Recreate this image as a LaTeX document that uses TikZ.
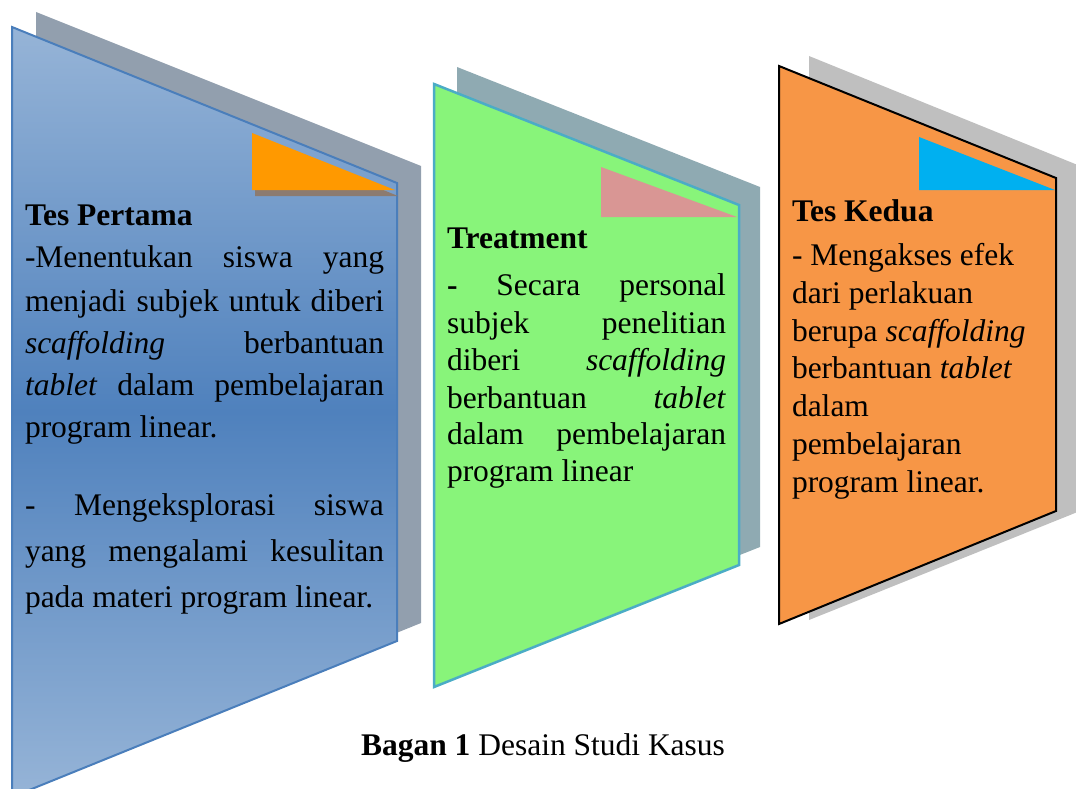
\documentclass[tikz,border=0pt]{standalone}
\usepackage{fontspec}
\setmainfont{Liberation Serif}
\definecolor{bluetop}{RGB}{150,180,215}
\definecolor{bluemid}{RGB}{79,129,189}
\definecolor{bluestroke}{RGB}{74,126,187}
\definecolor{blueshadow}{RGB}{146,159,174}
\definecolor{greenfill}{RGB}{136,244,122}
\definecolor{greenstroke}{RGB}{75,172,198}
\definecolor{greenshadow}{RGB}{143,170,178}
\definecolor{orangefill}{RGB}{247,150,70}
\definecolor{orangeshadow}{RGB}{191,191,191}
\definecolor{tri1}{RGB}{255,153,0}
\definecolor{tri1shadow}{RGB}{140,123,112}
\definecolor{tri2}{RGB}{217,150,148}
\definecolor{tri3}{RGB}{0,176,240}
\begin{document}
\begin{tikzpicture}[x=1pt,y=-1pt,
  txt/.style={anchor=base west,inner sep=0pt,outer sep=0pt,font=\fontsize{31.5}{37}\selectfont},
  ttl/.style={txt,font=\fontsize{31.5}{37}\selectfont\bfseries}]
\useasboundingbox (0,0) rectangle (1076,789);
\clip (0,0) rectangle (1076,789);
% ---------- panel 1 ----------
\fill[blueshadow] (36,12) -- (421,166) -- (421,623) -- (36,779) -- cycle;
\shade[top color=bluetop,bottom color=bluetop,middle color=bluemid] (12,27) -- (397,183) -- (397,641) -- (12,797) -- cycle;
\draw[bluestroke,line width=2pt] (12,27) -- (397,183) -- (397,641) -- (12,797) -- cycle;
\fill[tri1shadow] (255,138) -- (255,196) -- (398,196) -- cycle;
\fill[tri1] (252,133) -- (252,190) -- (395,190) -- cycle;
\node[ttl] (t1) at (25,225) {Tes Pertama};
\node[txt] (a1) at (25,267) {\makebox[359pt][s]{-Menentukan siswa yang}};
\node[txt] (a2) at (25,311) {\makebox[359pt][s]{menjadi subjek untuk diberi}};
\node[txt] (a3) at (25,353) {\makebox[359pt][s]{\textit{scaffolding} berbantuan}};
\node[txt] (a4) at (25,395) {\makebox[359pt][s]{\textit{tablet} dalam pembelajaran}};
\node[txt] (a5) at (25,437) {program linear.};
\node[txt] (a6) at (25,515) {\makebox[359pt][s]{- Mengeksplorasi siswa}};
\node[txt] (a7) at (25,561) {\makebox[359pt][s]{yang mengalami kesulitan}};
\node[txt] (a8) at (25,607) {pada materi program linear.};
% ---------- panel 2 ----------
\fill[greenshadow] (457,67) -- (760,187) -- (760,547) -- (457,667) -- cycle;
\filldraw[fill=greenfill,draw=greenstroke,line width=2.5pt] (434,84) -- (739,205) -- (739,565) -- (434,687) -- cycle;
\fill[tri2] (601,167) -- (601,217) -- (737,217) -- cycle;
\node[ttl] (t2) at (447,248) {Treatment};
\node[txt] (b1) at (447,295) {\makebox[279pt][s]{\textbf{-} Secara personal}};
\node[txt] (b2) at (447,333) {\makebox[279pt][s]{subjek penelitian}};
\node[txt] (b3) at (447,370) {\makebox[279pt][s]{diberi \textit{scaffolding}}};
\node[txt] (b4) at (447,408) {\makebox[279pt][s]{berbantuan \textit{tablet}}};
\node[txt] (b5) at (447,444) {\makebox[279pt][s]{dalam pembelajaran}};
\node[txt] (b6) at (447,481) {program linear};
% ---------- panel 3 ----------
\fill[orangeshadow] (809,56) -- (1090,170) -- (1090,507) -- (809,620) -- cycle;
\filldraw[fill=orangefill,draw=black,line width=2pt] (779,66) -- (1056,178) -- (1056,511) -- (779,624) -- cycle;
\fill[tri3] (919,137) -- (919,190) -- (1055,190) -- cycle;
\node[ttl] (t3) at (792,221) {Tes Kedua};
\node[txt] (c1) at (792,265) {- Mengakses efek};
\node[txt] (c2) at (792,303) {dari perlakuan};
\node[txt] (c3) at (792,341) {berupa \textit{scaffolding}};
\node[txt] (c4) at (792,378) {berbantuan \textit{tablet}};
\node[txt] (c5) at (792,416) {dalam};
\node[txt] (c6) at (792,454) {pembelajaran};
\node[txt] (c7) at (792,492) {program linear.};
% ---------- caption ----------
\node[txt] (cap) at (361,755) {\textbf{Bagan 1} Desain Studi Kasus};
\end{tikzpicture}
\end{document}
